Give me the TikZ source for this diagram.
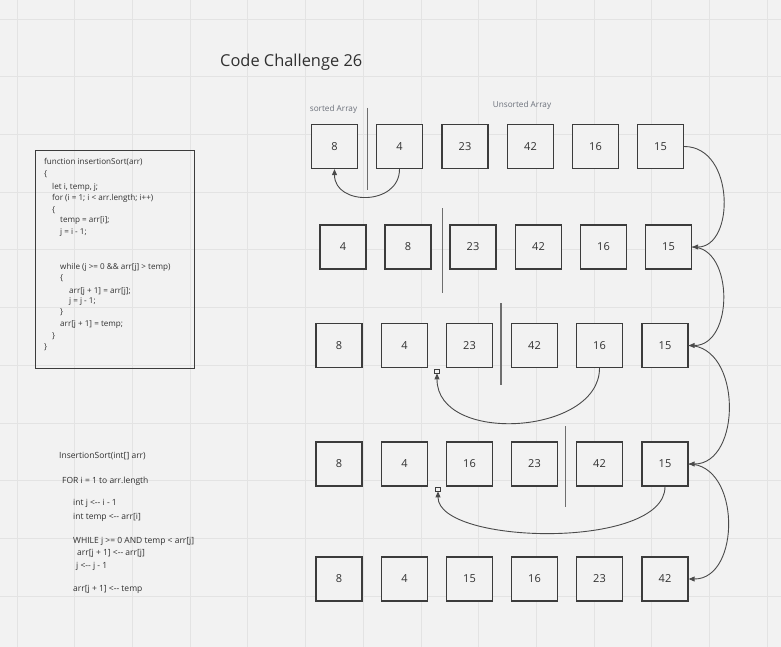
\documentclass[tikz,border=0pt]{standalone}
\usepackage{fontspec}
\setmainfont{Open Sans}
\usetikzlibrary{arrows.meta}
\definecolor{bg}{HTML}{F2F2F2}
\definecolor{gridc}{HTML}{E3E3E3}
\definecolor{boxc}{HTML}{3C3C3C}
\definecolor{txt}{HTML}{303030}
\definecolor{lbl}{HTML}{6B707A}
\definecolor{conc}{HTML}{4A4A4A}
\definecolor{divc}{HTML}{6E6E6E}
\begin{document}
\begin{tikzpicture}[x=1pt,y=-1pt,
  cell/.style={draw=boxc,fill=bg,line width=1.3pt,minimum width=46pt,minimum height=44pt,inner sep=0pt,font=\fontsize{11}{13}\selectfont,text=txt},
  code/.style={anchor=mid west,inner sep=0pt,font=\fontsize{8.1}{9}\selectfont,text=txt},
  pseudo/.style={anchor=mid west,inner sep=0pt,font=\fontsize{8.5}{9}\selectfont,text=txt},
  lblstyle/.style={anchor=mid,inner sep=0pt,font=\fontsize{8.2}{9}\selectfont,text=lbl},
  divider/.style={draw=divc,line width=1.3pt},
  conn/.style={draw=conc,line width=0.9pt,-{Triangle[length=6pt,width=5pt]}},
  marker/.style={draw=boxc,fill=bg,line width=0.8pt,minimum width=5pt,minimum height=4pt,inner sep=0pt}
]
\useasboundingbox (0,0) rectangle (781,647);
\fill[bg] (0,0) rectangle (781,647);
\foreach \k in {0,...,13} \draw[gridc,line width=0.8pt] (17+57.7*\k,0) -- (17+57.7*\k,647);
\foreach \k in {0,...,10} \draw[gridc,line width=0.8pt] (0,19+57.7*\k) -- (781,19+57.7*\k);

% title and labels
\node[anchor=base west,inner sep=0pt,font=\fontsize{16.4}{19}\selectfont,text=txt] (title) at (220,66.5) {Code Challenge 26};
\node[lblstyle] (sortedlbl) at (333.5,109) {sorted Array};
\node[lblstyle] (unsortedlbl) at (522,105) {Unsorted Array};

% code box
\node[draw=boxc,line width=1.3pt,minimum width=159pt,minimum height=218pt,anchor=north west,inner sep=0pt] (codebox) at (35,150) {};
\node[code] (c1) at (44,162) {function insertionSort(arr)};
\node[code] (c2) at (44,174) {\{};
\node[code] (c3) at (52,187) {let i, temp, j;};
\node[code] (c4) at (52,198) {for (i = 1; i < arr.length; i++)};
\node[code] (c5) at (52,210) {\{};
\node[code] (c6) at (60,220) {temp = arr[i];};
\node[code] (c7) at (60,232) {j = i - 1;};
\node[code] (c8) at (60,267) {while (j >= 0 \&\& arr[j] > temp)};
\node[code] (c9) at (60,278) {\{};
\node[code] (c10) at (69,291) {arr[j + 1] = arr[j];};
\node[code] (c11) at (69,301) {j = j - 1;};
\node[code] (c12) at (60,312) {\}};
\node[code] (c13) at (60,324) {arr[j + 1] = temp;};
\node[code] (c14) at (52,336) {\}};
\node[code] (c15) at (44,347) {\}};

% pseudocode
\node[pseudo] (p1) at (59,456) {InsertionSort(int[] arr)};
\node[pseudo] (p2) at (62,481) {FOR i = 1 to arr.length};
\node[pseudo] (p3) at (73,503) {int j <-{}- i - 1};
\node[pseudo] (p4) at (73,517) {int temp <-{}- arr[i]};
\node[pseudo] (p5) at (73,541) {WHILE j >= 0 AND temp < arr[j]};
\node[pseudo] (p6) at (77,553) {arr[j + 1] <-{}- arr[j]};
\node[pseudo] (p7) at (76,566) {j <-{}- j - 1};
\node[pseudo] (p8) at (73,589) {arr[j + 1] <-{}- temp};

% arrays
\foreach \x/\v [count=\i] in {334.5/8,399.5/4,465/23,530.5/42,595.5/16,660.5/15}
  \node[cell] (r1\i) at (\x,146.5) {\v};
\foreach \x/\v [count=\i] in {343/4,408/8,473/23,538.5/42,603.5/16,668.5/15}
  \node[cell] (r2\i) at (\x,247) {\v};
\foreach \x/\v [count=\i] in {339/8,404.5/4,469.5/23,534.5/42,599.5/16,665/15}
  \node[cell] (r3\i) at (\x,345.5) {\v};
\foreach \x/\v [count=\i] in {339/8,404.5/4,469.5/16,534.5/23,599.5/42,665/15}
  \node[cell] (r4\i) at (\x,464) {\v};
\foreach \x/\v [count=\i] in {339/8,404.5/4,469.5/15,534.5/16,599.5/23,665/42}
  \node[cell] (r5\i) at (\x,579) {\v};

% dividers
\draw[divider] (367.7,108) -- (367.7,190);
\draw[divider] (442.7,208) -- (442.7,293);
\draw[divider] (501,303) -- (501,385);
\draw[divider] (565.7,426) -- (565.7,507);

% markers
\node[marker] (m1) at (437,371) {};
\node[marker] (m2) at (438,489) {};

% connectors
\draw[conn] (r12.south) .. controls (399.5,206) and (334.5,206) .. (r11.south);
\draw[conn] (r35.south) .. controls (599.5,435) and (437,445) .. (m1.south);
\draw[conn] (r46.south) .. controls (665,550) and (438,545) .. (m2.south);
\draw[conn] (r16.east) .. controls (735,146.5) and (735,247) .. (r26.east);
\draw[conn] (r26.east) .. controls (734,247) and (734,345.5) .. (r36.east);
\draw[conn] (r36.east) .. controls (742,345.5) and (742,464) .. (r46.east);
\draw[conn] (r46.east) .. controls (741,464) and (741,579) .. (r56.east);
\end{tikzpicture}
\end{document}
